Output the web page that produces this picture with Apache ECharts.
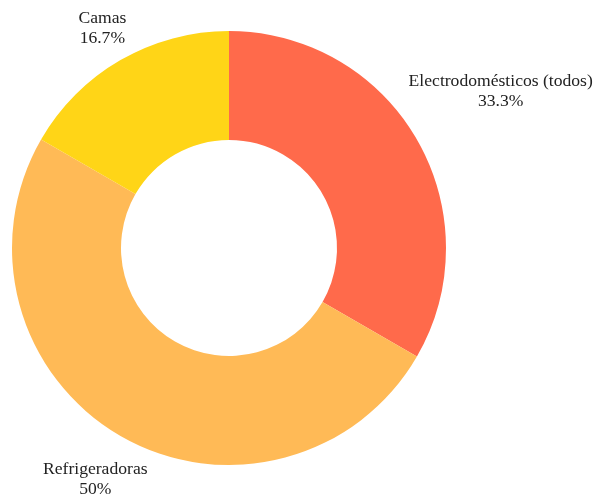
<!DOCTYPE html>
<html>
<head>
<meta charset="utf-8">
<script src="https://cdn.jsdelivr.net/npm/echarts@6/dist/echarts.min.js"></script>
<style>
  html, body { margin: 0; padding: 0; background: #fff; }
  #chart { width: 597px; height: 495px; }
</style>
</head>
<body>
<div id="chart"></div>
<script>
var categories = ['Electrodomésticos (todos)', 'Refrigeradoras', 'Camas'];
var values = [2, 3, 1];
var colors = ['#FF6A4B', '#FFBA56', '#FFD517'];

var cx = 229, cy = 248, rIn = 108, rOut = 217, gap = 7;

var total = values.reduce(function (a, b) { return a + b; }, 0);
// mid angle of each slice, clockwise from 12 o'clock
var midAngles = [];
var acc = 0;
values.forEach(function (v) {
    midAngles.push((acc + v / 2) / total * Math.PI * 2);
    acc += v;
});

var chart = echarts.init(document.getElementById('chart'));
chart.setOption({
    animation: false,
    color: colors,
    series: [{
        type: 'pie',
        center: [cx, cy],
        radius: [rIn, rOut],
        startAngle: 90,
        clockwise: true,
        percentPrecision: 1,
        itemStyle: { borderWidth: 0 },
        label: {
            show: true,
            position: 'inside',
            formatter: '{b}\n{d}%',
            color: '#222',
            fontFamily: "'Liberation Serif', 'Times New Roman', serif",
            fontSize: 17.6,
            lineHeight: 20
        },
        labelLine: { show: false },
        labelLayout: function (p) {
            var a = midAngles[p.dataIndex];
            var s = Math.sin(a), c = -Math.cos(a);
            var hw = p.labelRect.width / 2, hh = p.labelRect.height / 2;
            var d = rOut + gap + hw * Math.abs(s) + hh * Math.abs(c);
            return {
                x: cx + d * s,
                y: cy + d * c,
                align: 'center',
                verticalAlign: 'middle'
            };
        },
        data: categories.map(function (n, i) { return { name: n, value: values[i] }; })
    }]
});
</script>
</body>
</html>
